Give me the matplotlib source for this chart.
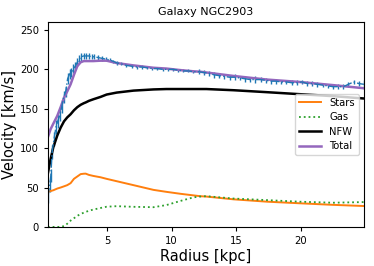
import numpy as np
import matplotlib
matplotlib.use("Agg")
from matplotlib import pyplot as plt

# observed rotation curve
r_obs = [0.42, 0.55, 0.65, 0.75, 0.9, 1.05, 1.2, 1.35, 1.5, 1.65, 1.8, 1.95,
         2.1, 2.25, 2.4, 2.55, 2.7, 2.85, 3.0, 3.2, 3.4, 3.6, 3.8, 4.0, 4.3,
         4.6, 4.9, 5.2, 5.5, 5.8, 6.1, 6.5, 6.9, 7.3, 7.7, 8.1, 8.5, 8.9, 9.3,
         9.7, 10.1, 10.5, 10.9, 11.3, 11.7, 12.1, 12.5, 12.9, 13.3, 13.7, 14.1,
         14.5, 14.9, 15.3, 15.7, 16.1, 16.5, 16.9, 17.3, 17.7, 18.1, 18.5,
         18.9, 19.3, 19.7, 20.1, 20.5, 20.9, 21.3, 21.7, 22.1, 22.5, 22.9,
         23.3, 23.7, 24.1, 24.5, 24.9]
v_obs = [38, 52, 65, 95, 112, 127, 135, 142, 153, 165, 172, 188,
         194, 196, 201, 204, 209, 213, 216, 217, 217, 217, 216, 216, 215,
         214, 213, 212, 210, 208, 207, 205, 204, 203, 203, 202, 201, 201, 200,
         200, 200, 199, 198, 198, 197, 197, 196, 195, 193, 192, 191,
         190, 190, 189, 188, 187, 187, 187, 186, 185, 185, 184,
         184, 183, 183, 184, 182, 182, 181, 180, 179, 178, 178,
         178, 181, 184, 182, 181]
e_obs = [8, 8, 8, 9, 9, 9, 9, 8, 8, 8, 7, 7,
         6, 6, 6, 5, 5, 5, 5, 4, 4, 4, 3, 3, 3,
         3, 3, 2, 2, 2, 2, 2, 2, 2, 2, 2, 2, 2, 2,
         2, 2, 2, 2, 2, 2, 3, 3, 3, 4, 3, 3,
         3, 4, 3, 4, 3, 4, 3, 3, 3, 3, 3,
         3, 3, 3, 3, 3, 3, 3, 3, 3, 3, 3,
         3, 3, 3, 3, 6]

# model components
r_mod = [0.42, 0.63, 0.84, 1.15, 1.41, 1.67, 1.92, 2.18, 2.44, 2.7, 2.96,
         3.2, 3.35, 3.6, 3.94, 4.5, 4.97, 5.75, 7.05, 8.6, 9.6, 10.7, 11.7,
         12.2, 12.7, 14.8, 17.4, 19.9, 22.5, 24.9]
v_stars = [44.5, 45.5, 46.5, 48.7, 50, 51.5, 53, 55.5, 61, 64, 67,
           67.5, 67.6, 66, 64.7, 63, 61, 58, 53, 47, 44.5, 42, 40,
           39, 38.5, 35, 32, 30, 28, 26.5]
v_gas = [0, 0, 0, 0, 0, 1, 4, 8, 11, 14, 16.5,
         18, 19, 20.5, 22, 24, 25.6, 26.3, 25.5, 25, 27.7, 33, 37.5,
         38.5, 39, 36, 34, 32, 30.7, 31.5]
v_nfw = [68, 86, 101, 116, 126, 134, 139, 143, 148, 152, 155,
         157, 158, 160, 162, 165, 168, 170.5, 173, 174.5, 175, 175, 175,
         175, 175, 173.5, 171, 168.5, 166, 163]
v_total = [114, 124, 131, 141, 152, 164, 172, 181, 193, 204, 209,
           210.5, 210.5, 210.5, 210.5, 211, 211, 208, 205, 202, 201, 199, 197.5,
           197, 196, 191.6, 187, 184, 180, 176]

fig = plt.figure(figsize=(3.74, 2.66), dpi=100)
ax = fig.add_axes([0.128, 0.147, 0.845, 0.77])

ax.errorbar(r_obs, v_obs, yerr=e_obs, fmt='-.', color='tab:blue',
            lw=1, elinewidth=1, capsize=0)
ax.plot(r_mod, v_stars, color='tab:orange', lw=1.4, label='Stars')
ax.plot(r_mod, v_gas, ':', color='tab:green', lw=1.3, label='Gas')
ax.plot(r_mod, v_nfw, color='black', lw=1.8, label='NFW')
ax.plot(r_mod, v_total, color='tab:purple', lw=1.8, label='Total')

ax.set_xlim(0.42, 24.9)
ax.set_ylim(0, 260)
ax.set_xticks([5, 10, 15, 20])
ax.set_yticks([0, 50, 100, 150, 200, 250])
ax.tick_params(labelsize=7.2, length=3)
ax.set_xlabel('Radius [kpc]', fontsize=10.5, labelpad=2)
ax.set_ylabel('Velocity [km/s]', fontsize=10.5, labelpad=2)
ax.set_title('Galaxy NGC2903', fontsize=8, pad=5)
ax.legend(loc='center right', fontsize=7.2, handlelength=2.2,
          borderpad=0.4, labelspacing=0.45)

fig.savefig('out.png', dpi=100)
